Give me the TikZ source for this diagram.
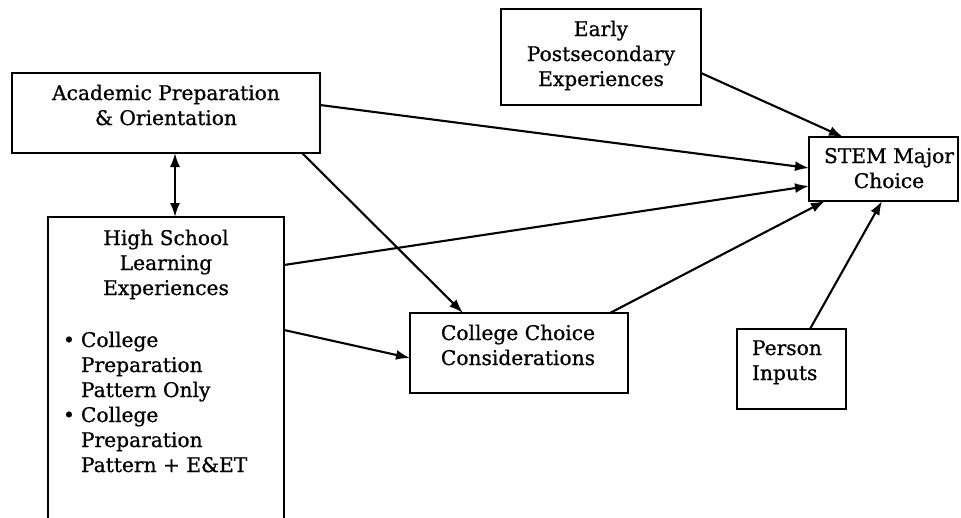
\documentclass[tikz,border=0pt]{standalone}
\usepackage{fontspec}
\setmainfont[FakeBold=0.8]{DejaVu Serif}
\usetikzlibrary{arrows.meta}
\tikzset{
  box/.style={draw, line width=1.8pt, inner sep=0pt, outer sep=0pt},
  lbl/.style={inner sep=0pt, outer sep=0pt, anchor=base},
  conn/.style={line width=2.1pt, -{Latex[length=14pt,width=10pt]}},
}
\newcommand{\lines}[1]{\begin{tabular}[t]{@{}c@{}}#1\end{tabular}}
\begin{document}
\begin{tikzpicture}[x=1pt,y=-1pt,font=\fontsize{20.2}{25}\selectfont]
\clip (0,0) rectangle (961,517);
% boxes
\node[box, minimum width=308pt, minimum height=80pt] (acad) at (166,113) {};
\node[box, minimum width=236pt, minimum height=343pt] (hs) at (166,388.5) {};
\node[box, minimum width=218pt, minimum height=80pt] (coll) at (519,353) {};
\node[box, minimum width=200pt, minimum height=96pt] (early) at (601,57) {};
\node[box, minimum width=149pt, minimum height=64pt] (stem) at (883.5,169) {};
\node[box, minimum width=109pt, minimum height=80pt] (person) at (791.5,369) {};
% labels
\node[lbl] (acadt) at (166,100) {\lines{Academic Preparation\\\& Orientation}};
\node[lbl] (hst) at (166,245) {\lines{High School\\Learning\\Experiences}};
\node[lbl, anchor=base west] (hsl) at (63,347) {\begin{tabular}[t]{@{}p{18pt}@{}l@{}}
• & College\\ & Preparation\\ & Pattern Only\\
• & College\\ & Preparation\\ & Pattern + E\&ET\end{tabular}};
\node[lbl] (collt) at (518,340) {\lines{College Choice\\Considerations}};
\node[lbl] (earlyt) at (601,36) {\lines{Early\\Postsecondary\\Experiences}};
\node[lbl] (stemt) at (889,163) {\lines{STEM Major\\Choice}};
\node[lbl, anchor=base west] (persont) at (752,355) {\begin{tabular}[t]{@{}l@{}}Person\\Inputs\end{tabular}};
% connectors
\draw[line width=2.1pt, {Latex[length=14pt,width=10pt]}-{Latex[length=14pt,width=10pt]}] ([xshift=9pt]acad.south) -- ([xshift=9pt]hs.north);
\draw[conn] ([yshift=-32pt]acad.north east) -- ([yshift=-31pt]stem.north west);
\draw[conn] ([yshift=-48pt]hs.north east) -- ([yshift=-49pt]stem.north west);
\draw[conn] ([xshift=-18pt]acad.south east) -- ([xshift=53pt]coll.north west);
\draw[conn] ([yshift=-113pt]hs.north east) -- ([yshift=-45pt]coll.north west);
\draw[conn] ([xshift=-18pt]coll.north east) -- ([xshift=16pt]stem.south west);
\draw[conn] ([yshift=-64pt]early.north east) -- ([xshift=34pt]stem.north west);
\draw[conn] ([xshift=73pt]person.north west) -- ([xshift=73pt]stem.south west);
\end{tikzpicture}
\end{document}
